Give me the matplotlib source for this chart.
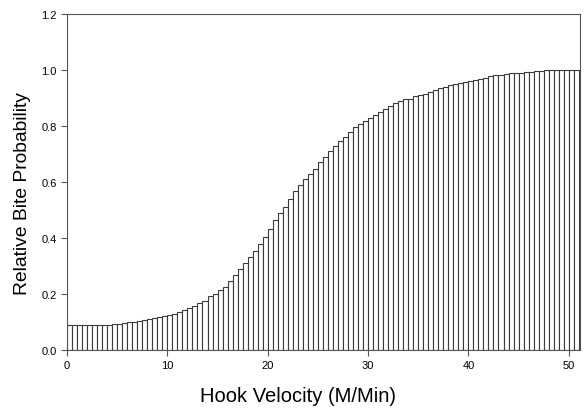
import matplotlib
matplotlib.use("Agg")
import matplotlib.pyplot as plt
import numpy as np

plt.rcParams['font.family'] = ['Liberation Sans', 'DejaVu Sans']

# Bar left edges (M/Min), width 0.5
bin_width = 0.5
bin_starts = [i * 0.5 for i in range(102)]
probability = [
    0.088, 0.088, 0.088, 0.088, 0.088, 0.088, 0.088, 0.088, 0.088, 0.090,
    0.092, 0.096, 0.098, 0.100, 0.102, 0.106, 0.109, 0.112, 0.115, 0.120,
    0.124, 0.128, 0.133, 0.140, 0.147, 0.156, 0.166, 0.175, 0.190, 0.200,
    0.214, 0.224, 0.244, 0.266, 0.287, 0.310, 0.330, 0.354, 0.378, 0.402,
    0.431, 0.462, 0.489, 0.510, 0.539, 0.567, 0.587, 0.609, 0.627, 0.647,
    0.672, 0.689, 0.709, 0.727, 0.745, 0.760, 0.778, 0.795, 0.807, 0.819,
    0.829, 0.838, 0.850, 0.862, 0.872, 0.882, 0.890, 0.897, 0.898, 0.907,
    0.910, 0.916, 0.922, 0.929, 0.936, 0.940, 0.948, 0.949, 0.955, 0.958,
    0.961, 0.966, 0.969, 0.973, 0.979, 0.981, 0.983, 0.986, 0.988, 0.990,
    0.991, 0.992, 0.994, 0.997, 0.998, 1.000, 1.000, 1.000, 1.000, 1.000,
    1.000, 1.000,
]
x_ticks = [0, 10, 20, 30, 40, 50]
y_ticks = [0.0, 0.2, 0.4, 0.6, 0.8, 1.0, 1.2]

fig = plt.figure(figsize=(5.88, 4.10), dpi=100)
ax = fig.add_axes([0.114, 0.145, 0.872, 0.818])

ax.bar(bin_starts, probability, width=bin_width, align='edge',
       color='white', edgecolor='#3a3a3a', linewidth=0.8)

ax.set_xlim(0, 51.1)
ax.set_ylim(0, 1.2)
ax.set_xticks(x_ticks)
ax.set_yticks(y_ticks)
ax.set_yticklabels([f"{v:.1f}" for v in y_ticks])
ax.tick_params(axis='both', direction='out', length=4, width=0.8,
               colors='#555555', labelcolor='black', labelsize=8, pad=3.5)
for side in ['left', 'bottom', 'top', 'right']:
    ax.spines[side].set_color('#555555')
    ax.spines[side].set_linewidth(0.8)

fig.text(298.5 / 588, 8.3 / 410, 'Hook Velocity (M/Min)', fontsize=14.5,
         ha='center', va='baseline')
fig.text(22.5 / 588, 216.7 / 410, 'Relative Bite Probability', fontsize=13.9,
         rotation=90, ha='center', va='center')

fig.savefig('out.png', dpi=100)
